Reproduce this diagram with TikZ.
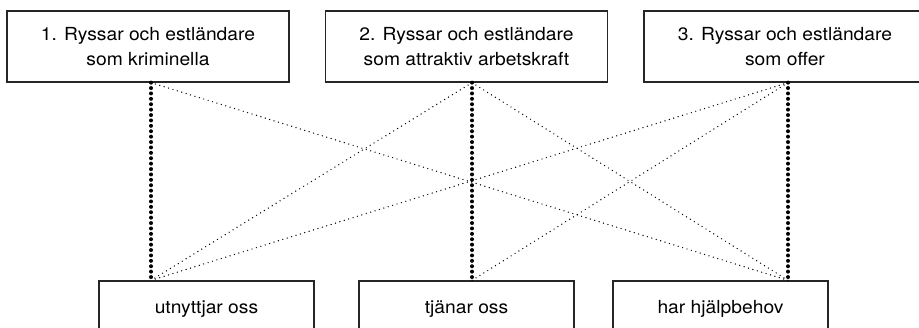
\documentclass[tikz,border=0pt]{standalone}
\usepackage{fontspec}
\setmainfont{TeX Gyre Heros}[FakeStretch=1.07]
\usetikzlibrary{positioning}
\tikzset{
    %Define style for boxes
    upper/.style={
           rectangle,
           draw=black!85, line width=1.3pt,
           minimum width=282pt,
           minimum height=71pt,
           inner sep=0pt,
           align=center,
           font=\fontsize{18}{25}\selectfont},
    lower/.style={
           rectangle,
           draw=black!85, line width=1.3pt,
           minimum width=215pt,
           minimum height=56pt,
           inner sep=0pt,
           align=center,
           font=\fontsize{18}{25}\selectfont},
    % Define line styles
    strong/.style={
           line width=4pt,
           line cap=round,
           dash pattern=on 0pt off 5.4pt},
    weak/.style={
           line width=1.4pt,
           line cap=round,
           dash pattern=on 0pt off 4.6pt}
}
\begin{document}
\begin{tikzpicture}[x=1pt,y=-1pt]
\useasboundingbox (0,0) rectangle (919,328);
\clip (0,0) rectangle (919,328);
\node[upper](t1) at (148,46.5){1. Ryssar och estländare\\som kriminella};
\node[upper](t2) at (466.5,46.5){2. Ryssar och estländare\\som attraktiv arbetskraft};
\node[upper](t3) at (785,46.5){3. Ryssar och estländare\\som offer};
\node[lower](b1) at (206.5,309){utnyttjar oss};
\node[lower](b2) at (466.5,309){tjänar oss};
\node[lower](b3) at (720.5,309){har hjälpbehov};
% connection points
\coordinate (p1) at (t1.south -| 151,0);
\coordinate (p2) at (t2.south -| 472,0);
\coordinate (p3) at (t3.south -| 788,0);
\coordinate (q1) at (b1.north -| 151,0);
\coordinate (q2) at (b2.north -| 472,0);
\coordinate (q3) at (b3.north -| 788,0);
\draw[strong] (p1) -- (q1);
\draw[strong] (p2) -- (q2);
\draw[strong] (p3) -- (q3);
\draw[weak] (p1) -- (q3);
\draw[weak] (p2) -- (q1);
\draw[weak] (p2) -- (q3);
\draw[weak] (p3) -- (q1);
\draw[weak] (p3) -- (q2);
\end{tikzpicture}
\end{document}
